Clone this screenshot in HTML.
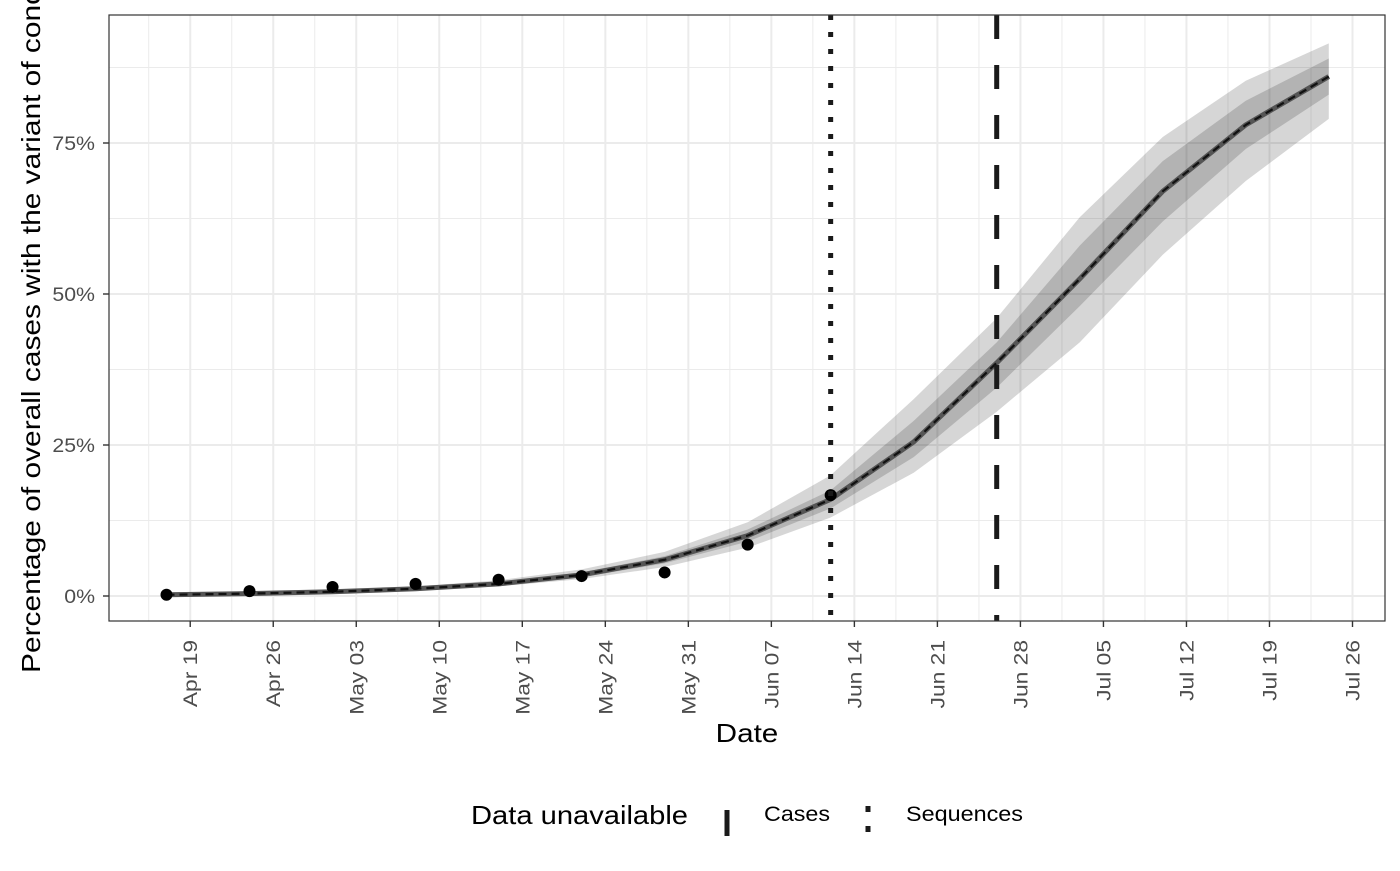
<!DOCTYPE html>
<html><head><meta charset="utf-8"><style>
body{margin:0;background:#fff;font-family:"Liberation Sans",Arial,sans-serif}
svg text{font-family:"Liberation Sans",Arial,sans-serif}
</style></head><body>
<svg id="c" width="1400" height="866" xmlns="http://www.w3.org/2000/svg"></svg>
<script>
const weekLabels=["Apr 19","Apr 26","May 03","May 10","May 17","May 24","May 31","Jun 07","Jun 14","Jun 21","Jun 28","Jul 05","Jul 12","Jul 19","Jul 26"];
const yTicks=[0,25,50,75];
const modelDays=[0,7,14,21,28,35,42,49,56,63,70,77,84,91,98];
const median=[0.2,0.4,0.7,1.2,2.0,3.5,6.0,10.0,16.0,25.5,38.6,52.5,67,78,86];
const lo95=[0.1,0.3,0.5,0.9,1.6,2.8,4.8,8.0,13.0,20.4,30.5,42,56.5,68.7,79];
const hi95=[0.3,0.6,1.0,1.6,2.6,4.4,7.3,12.2,20.0,32.6,46,62.7,76,85.3,91.5];
const lo50=[0.15,0.35,0.6,1.0,1.8,3.1,5.4,9.0,14.5,23,34.5,48,62,74,83];
const hi50=[0.25,0.5,0.8,1.4,2.3,3.9,6.6,11.0,17.5,29,42,58,72,82,89];
const obsDays=[0,7,14,21,28,35,42,49,56];
const obsVals=[0.2,0.8,1.5,2.0,2.7,3.3,3.9,8.5,16.7];
const casesDay=70, seqDay=56;
const NS="http://www.w3.org/2000/svg";
const svg=document.getElementById('c');
const X=d=>166.5+d*11.86;
const Y=p=>596-p*6.04;
const L=109,R=1385,T=15,B=621;
function mk(t,a,p){const e=document.createElementNS(NS,t);for(const k in a)e.setAttribute(k,a[k]);(p||svg).appendChild(e);return e;}
function stretch(el,f){const w=el.getComputedTextLength();el.setAttribute('textLength',w*f);el.setAttribute('lengthAdjust','spacingAndGlyphs');}
const g=mk('g',{});


mk('rect',{x:L,y:T,width:R-L,height:B-T,fill:'#fff'},g);
for(let i=-1;i<weekLabels.length;i++){const x=X(2+i*7+3.5);if(x>L&&x<R){const l=mk('line',{x1:x,x2:x,y1:T,y2:B,stroke:'#ebebeb','stroke-width':1},g);}}
for(let v=-12.5;v<=112.5;v+=25){const y=Y(v);if(y>T&&y<B){const l=mk('line',{x1:L,x2:R,y1:y,y2:y,stroke:'#ebebeb','stroke-width':1},g);}}
weekLabels.forEach((s,i)=>{const x=X(2+i*7);const l=mk('line',{x1:x,x2:x,y1:T,y2:B,stroke:'#ebebeb','stroke-width':2},g);});
yTicks.forEach(v=>{const y=Y(v);const l=mk('line',{x1:L,x2:R,y1:y,y2:y,stroke:'#ebebeb','stroke-width':2},g);});
function band(lo,hi,name,fill){let d='';modelDays.forEach((dd,i)=>{d+=(i?'L':'M')+X(dd)+','+Y(hi[i]);});for(let i=modelDays.length-1;i>=0;i--)d+='L'+X(modelDays[i])+','+Y(lo[i]);const p=mk('path',{d:d+'Z',fill:fill},g);}
band(lo95,hi95,'ribbon-95',"rgba(0,0,0,0.16)");
band(lo50,hi50,'ribbon-50',"rgba(0,0,0,0.16)");
const pts=modelDays.map((d,i)=>X(d)+','+Y(median[i])).join(' ');
const m1=mk('polyline',{points:pts,fill:'none',stroke:'#555','stroke-width':5,'stroke-linejoin':'round'},g);

const m2=mk('polyline',{points:pts,fill:'none',stroke:'#111','stroke-width':2.2,'stroke-dasharray':'8,5'},g);

obsDays.forEach((d,i)=>{const c=mk('circle',{cx:X(d),cy:Y(obsVals[i]),r:6,fill:'#000'},g);});
const vs=mk('line',{x1:X(seqDay),x2:X(seqDay),y1:T,y2:B,stroke:'#1a1a1a','stroke-width':5,'stroke-dasharray':'5,12'},g);

const vc=mk('line',{x1:X(casesDay),x2:X(casesDay),y1:T,y2:B,stroke:'#1a1a1a','stroke-width':5,'stroke-dasharray':'24,26'},g);

mk('rect',{x:L,y:T,width:R-L,height:B-T,fill:'none',stroke:'#333','stroke-width':1.2},g);
weekLabels.forEach((s,i)=>{const x=X(2+i*7);mk('line',{x1:x,x2:x,y1:B,y2:B+6,stroke:'#333','stroke-width':1.4});const t=mk('text',{x:0,y:0,transform:`translate(${x+7},${B+19}) rotate(-90)`,'text-anchor':'end','font-size':19,fill:'#4d4d4d'});t.textContent=s;stretch(t,1.2);});
yTicks.forEach(v=>{const y=Y(v);mk('line',{x1:L-6,x2:L,y1:y,y2:y,stroke:'#333','stroke-width':1.4});const t=mk('text',{x:L-14,y:y+7,'text-anchor':'end','font-size':19,fill:'#4d4d4d'});t.textContent=v+'%';stretch(t,1.12);});
let t=mk('text',{x:747,y:742,'text-anchor':'middle','font-size':26,fill:'#000'});t.textContent='Date';stretch(t,1.14);

t=mk('text',{x:0,y:0,transform:'translate(40,673) rotate(-90)','text-anchor':'start','font-size':26,fill:'#000'});t.textContent='Percentage of overall cases with the variant of concern';stretch(t,1.15);

const lg=mk('g',{});

t=mk('text',{x:471,y:824,'font-size':26,fill:'#000'},lg);t.textContent='Data unavailable';t.setAttribute('textLength',217);t.setAttribute('lengthAdjust','spacingAndGlyphs');
mk('line',{x1:727,x2:727,y1:810,y2:836,stroke:'#1a1a1a','stroke-width':5},lg);
t=mk('text',{x:764,y:821,'font-size':21,fill:'#000'},lg);t.textContent='Cases';t.setAttribute('textLength',66);t.setAttribute('lengthAdjust','spacingAndGlyphs');
mk('line',{x1:868,x2:868,y1:806,y2:838,stroke:'#1a1a1a','stroke-width':5,'stroke-dasharray':'6,14'},lg);
t=mk('text',{x:906,y:821,'font-size':21,fill:'#000'},lg);t.textContent='Sequences';t.setAttribute('textLength',117);t.setAttribute('lengthAdjust','spacingAndGlyphs');
</script>
</body></html>
